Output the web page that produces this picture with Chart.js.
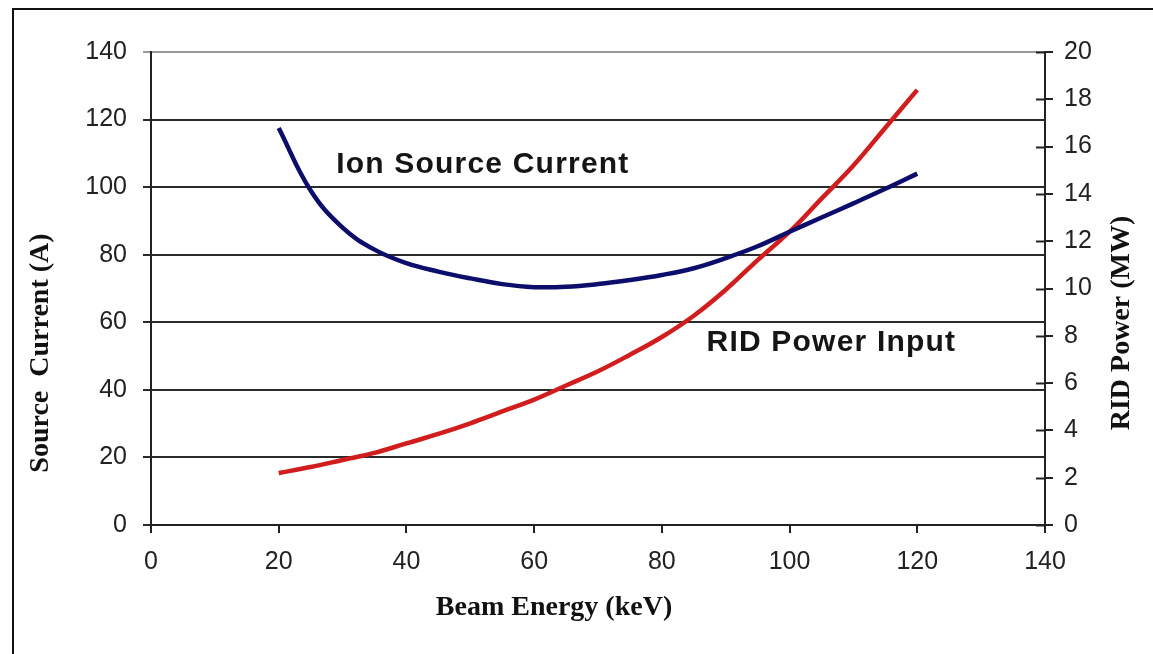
<!DOCTYPE html>
<html>
<head>
<meta charset="utf-8">
<script src="https://cdn.jsdelivr.net/npm/chart.js@4.4.1/dist/chart.umd.min.js"></script>
<style>
	body { margin: 0; background: #fff; }
	#marco { position: relative; width: 1153px; height: 654px; }
</style>
</head>
<body>
<div id="marco"><canvas id="grafica"></canvas></div>
<script>
// energia del haz (keV)
var energia = [20, 25, 30, 35, 40, 45, 50, 55, 60, 65, 70, 75, 80, 85, 90, 95, 100, 105, 110, 115, 120];
// corriente de la fuente (A)
var corriente = [117.5, 99, 88, 81.5, 77.5, 75, 73, 71.3, 70.4, 70.5, 71.3, 72.5, 74, 76, 79, 82.5, 86.8, 91, 95.2, 99.5, 104];
// potencia RID (MW)
var potencia = [2.2, 2.45, 2.75, 3.05, 3.45, 3.85, 4.3, 4.8, 5.3, 5.9, 6.5, 7.2, 7.95, 8.85, 9.95, 11.2, 12.4, 13.8, 15.2, 16.8, 18.4];

var ticksX = [0, 20, 40, 60, 80, 100, 120, 140];
var ticksCorriente = [0, 20, 40, 60, 80, 100, 120, 140];
var ticksPotencia = [0, 2, 4, 6, 8, 10, 12, 14, 16, 18, 20];

var nombreCorriente = "Ion Source Current";
var nombrePotencia = "RID Power Input";

// textos sobre la grafica (en unidades de datos)
var etiquetas = [
	{ texto: nombreCorriente, x: 29, y: 106.5 },
	{ texto: nombrePotencia, x: 87, y: 54 }
];

var titulos = [
	{ texto: "Source  Current (A)", x: 41, y: 353, rot: -Math.PI / 2 },
	{ texto: "RID Power (MW)", x: 1122, y: 323, rot: -Math.PI / 2 },
	{ texto: "Beam Energy (keV)", x: 554, y: 608, rot: 0 }
];

function puntos(xs, ys){
	return xs.map(function(v, i){ return { x: v, y: ys[i] }; });
}

var fuenteTicks = { family: "'Liberation Sans', Arial, sans-serif", size: 25 };

var extras = {
	id: "extras",
	afterDatasetsDraw: function(chart){
		var c = chart.ctx;
		var sx = chart.scales.x, sy = chart.scales.y;
		c.save();
		c.fillStyle = "#151515";
		c.font = "bold 30px 'Liberation Sans', Arial, sans-serif";
		c.letterSpacing = "1.2px";
		c.textBaseline = "middle";
		c.textAlign = "left";
		for (e of etiquetas) {
			c.fillText(e.texto, sx.getPixelForValue(e.x), sy.getPixelForValue(e.y));
		}
		c.restore();
	},
	afterDraw: function(chart){
		var c = chart.ctx;
		var s2 = chart.scales.y2;
		c.save();
		// marcas interiores del eje derecho
		c.strokeStyle = "#222";
		c.lineWidth = 2;
		for (t of s2.ticks) {
			var py = Math.round(s2.getPixelForValue(t.value)) + 0.5;
			c.beginPath();
			c.moveTo(s2.left - 9, py);
			c.lineTo(s2.left, py);
			c.stroke();
		}
		// titulos de ejes
		c.fillStyle = "#111";
		c.font = "bold 28px 'Liberation Serif', 'Times New Roman', serif";
		c.textAlign = "center";
		c.textBaseline = "middle";
		for (t of titulos) {
			c.save();
			c.translate(t.x, t.y);
			c.rotate(t.rot);
			c.fillText(t.texto, 0, 0);
			c.restore();
		}
		// marco exterior
		c.strokeStyle = "#111";
		c.lineWidth = 2;
		c.beginPath();
		c.moveTo(13, chart.height);
		c.lineTo(13, 9);
		c.lineTo(chart.width, 9);
		c.stroke();
		c.restore();
	}
};

var grafica = new Chart(document.getElementById("grafica").getContext("2d"), {
	type: "line",
	data: {
		datasets: [
			{
				label: nombreCorriente,
				data: puntos(energia, corriente),
				borderColor: "#0d0d6b",
				borderWidth: 4.5,
				pointRadius: 0,
				tension: 0.4,
				yAxisID: "y",
			},
			{
				label: nombrePotencia,
				data: puntos(energia, potencia),
				borderColor: "#d11d1d",
				borderWidth: 4.5,
				pointRadius: 0,
				tension: 0.4,
				yAxisID: "y2",
			},
		],
	},
	options: {
		responsive: true,
		maintainAspectRatio: false,
		animation: false,
		layout: { padding: { top: 52, left: 0, right: 0, bottom: 0 } },
		plugins: {
			legend: { display: false },
			tooltip: { enabled: false },
		},
		scales: {
			x: {
				type: "linear",
				min: 0,
				max: 140,
				afterBuildTicks: function(s){ s.ticks = ticksX.map(function(v){ return { value: v }; }); },
				afterFit: function(s){ s.height = 129; },
				grid: { drawOnChartArea: false, tickLength: 8, color: "#222", lineWidth: 2 },
				border: { color: "#222", width: 2 },
				ticks: { color: "#222", font: fuenteTicks, padding: 14, maxRotation: 0 },
			},
			y: {
				position: "left",
				min: 0,
				max: 140,
				afterBuildTicks: function(s){ s.ticks = ticksCorriente.map(function(v){ return { value: v }; }); },
				afterFit: function(s){ s.width = 151; },
				grid: {
					tickLength: 8,
					lineWidth: 2,
					color: function(c){ return c.tick && c.tick.value === 140 ? "#999" : "#2a2a2a"; },
				},
				border: { color: "#222", width: 2 },
				ticks: { color: "#222", font: fuenteTicks, padding: 16 },
			},
			y2: {
				position: "right",
				min: 0,
				max: 20,
				afterBuildTicks: function(s){ s.ticks = ticksPotencia.map(function(v){ return { value: v }; }); },
				afterFit: function(s){ s.width = 108; },
				grid: { drawOnChartArea: false, tickLength: 8, color: "#222", lineWidth: 2 },
				border: { color: "#222", width: 2 },
				ticks: { color: "#222", font: fuenteTicks, padding: 11 },
			},
		},
	},
	plugins: [extras],
});
</script>
</body>
</html>
